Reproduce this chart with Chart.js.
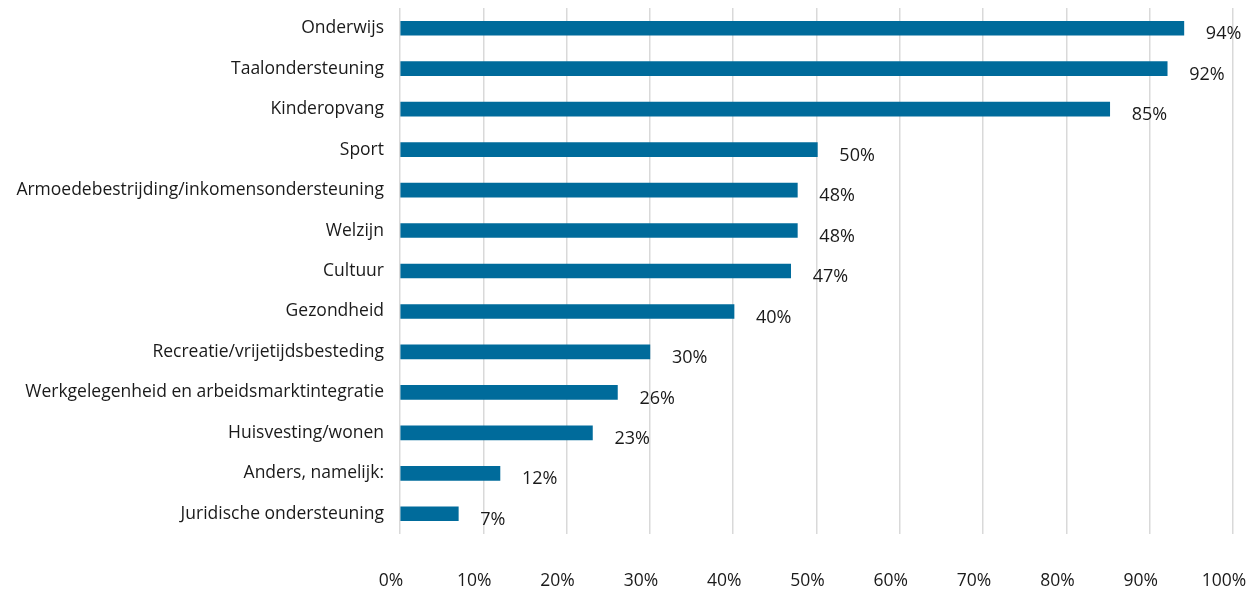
<!DOCTYPE html>
<html>
<head>
<meta charset="utf-8">
<script src="https://cdn.jsdelivr.net/npm/chart.js@4"></script>
<style>
  html, body { margin: 0; padding: 0; background: #fff; }
  #wrap { width: 1248px; height: 590px; }
</style>
</head>
<body>
<div id="wrap"><canvas id="chart"></canvas></div>
<script>
// Categories and percentages
const categories = [
  "Onderwijs",
  "Taalondersteuning",
  "Kinderopvang",
  "Sport",
  "Armoedebestrijding/inkomensondersteuning",
  "Welzijn",
  "Cultuur",
  "Gezondheid",
  "Recreatie/vrijetijdsbesteding",
  "Werkgelegenheid en arbeidsmarktintegratie",
  "Huisvesting/wonen",
  "Anders, namelijk:",
  "Juridische ondersteuning"
];
const values = [94.1, 92.1, 85.2, 50.1, 47.7, 47.7, 46.9, 40.1, 30.0, 26.1, 23.1, 12.0, 7.0];
const valueLabels = ["94%", "92%", "85%", "50%", "48%", "48%", "47%", "40%", "30%", "26%", "23%", "12%", "7%"];
const xTicks = [0, 10, 20, 30, 40, 50, 60, 70, 80, 90, 100];

const FONT = "'Open Sans', sans-serif";
const FONT_SIZE = 17.5;

// Draw the value labels a bit right of and below the end of each bar
const valueLabelPlugin = {
  id: "valueLabels",
  afterDatasetsDraw(chart) {
    const ctx = chart.ctx;
    const meta = chart.getDatasetMeta(0);
    ctx.save();
    ctx.font = "18px " + FONT;
    ctx.fillStyle = "#1a1a1a";
    ctx.textAlign = "left";
    ctx.textBaseline = "middle";
    meta.data.forEach((bar, i) => {
      ctx.fillText(valueLabels[i], bar.x + 22, bar.y + 6);
    });
    ctx.restore();
  }
};

// drop the extra room Chart.js keeps for tick labels at the ends
function noPadding(scale) {
  scale.paddingLeft = 0;
  scale.paddingRight = 0;
  scale.paddingTop = 0;
  scale.paddingBottom = 0;
}

new Chart(document.getElementById("chart"), {
  type: "bar",
  data: {
    labels: categories,
    datasets: [{
      data: values,
      backgroundColor: "#006b9b",
      borderWidth: 0,
      barThickness: 14
    }]
  },
  options: {
    indexAxis: "y",
    responsive: true,
    maintainAspectRatio: false,
    animation: false,
    layout: { padding: { top: 8, right: 15, left: 0, bottom: 0 } },
    plugins: {
      legend: { display: false },
      tooltip: { enabled: false }
    },
    scales: {
      x: {
        min: 0,
        max: 100,
        afterBuildTicks(scale) {
          scale.ticks = xTicks.map(v => ({ value: v }));
        },
        afterFit(scale) { scale.height = 56; noPadding(scale); },
        grid: { color: "#d9d9d9", lineWidth: 1.5, drawTicks: false },
        border: { display: false },
        ticks: {
          padding: 37,
          labelOffset: -9,
          maxRotation: 0,
          color: "#1a1a1a",
          font: { family: FONT, size: FONT_SIZE },
          callback: v => v + "%"
        }
      },
      y: {
        afterFit(scale) { scale.width = 400; noPadding(scale); },
        grid: { display: false, drawTicks: false },
        border: { display: false },
        ticks: {
          padding: 16,
          color: "#1a1a1a",
          font: { family: FONT, size: FONT_SIZE }
        }
      }
    }
  },
  plugins: [valueLabelPlugin]
});
</script>
</body>
</html>
